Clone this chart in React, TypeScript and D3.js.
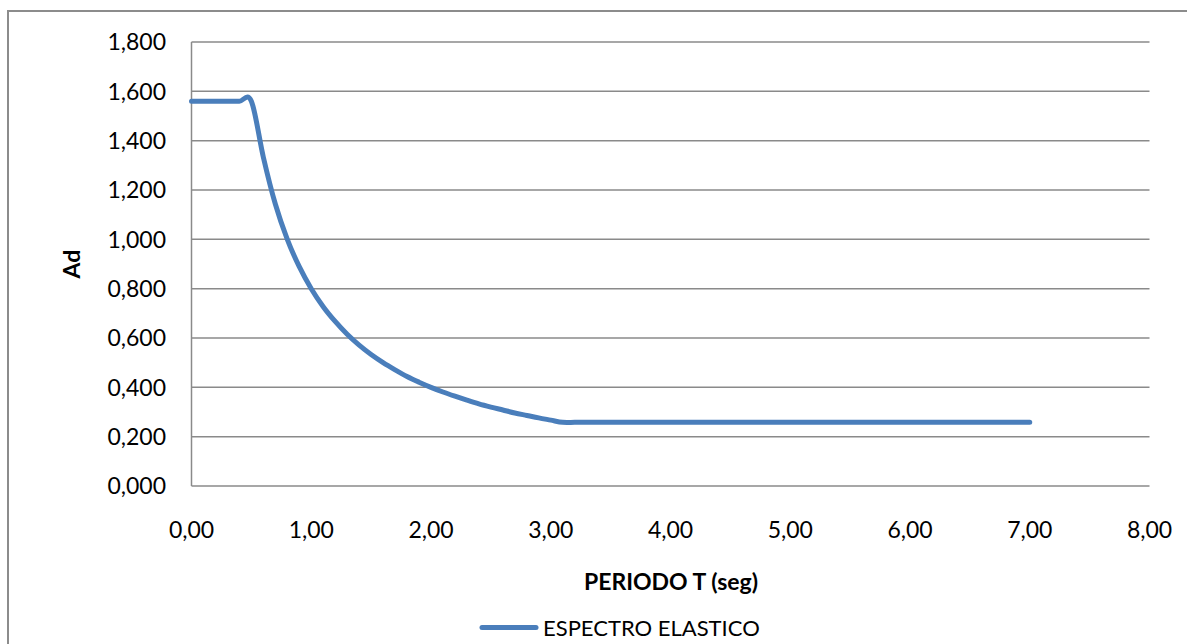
import React from "react";
import * as d3 from "d3";

const periods: number[] = [
  0.0, 0.1, 0.2, 0.3, 0.4, 0.5, 0.6, 0.7, 0.8, 0.9,
  1.0, 1.1, 1.2, 1.3, 1.4, 1.5, 1.6, 1.7, 1.8, 1.9,
  2.0, 2.1, 2.2, 2.3, 2.4, 2.5, 2.6, 2.7, 2.8, 2.9,
  3.0, 3.1, 3.2, 3.3, 3.4, 3.5, 3.6, 3.7, 3.8, 3.9,
  4.0, 4.1, 4.2, 4.3, 4.4, 4.5, 4.6, 4.7, 4.8, 4.9,
  5.0, 5.1, 5.2, 5.3, 5.4, 5.5, 5.6, 5.7, 5.8, 5.9,
  6.0, 6.1, 6.2, 6.3, 6.4, 6.5, 6.6, 6.7, 6.8, 6.9,
  7.0,
];

const adValues: number[] = [
  1.56, 1.56, 1.56, 1.56, 1.56, 1.56, 1.333, 1.143, 1.0, 0.889,
  0.8, 0.727, 0.667, 0.615, 0.571, 0.533, 0.5, 0.471, 0.444, 0.421,
  0.4, 0.381, 0.364, 0.348, 0.333, 0.32, 0.308, 0.296, 0.286, 0.276,
  0.267, 0.258, 0.258, 0.258, 0.258, 0.258, 0.258, 0.258, 0.258, 0.258,
  0.258, 0.258, 0.258, 0.258, 0.258, 0.258, 0.258, 0.258, 0.258, 0.258,
  0.258, 0.258, 0.258, 0.258, 0.258, 0.258, 0.258, 0.258, 0.258, 0.258,
  0.258, 0.258, 0.258, 0.258, 0.258, 0.258, 0.258, 0.258, 0.258, 0.258,
  0.258,
];

const yTicks: number[] = [0, 0.2, 0.4, 0.6, 0.8, 1.0, 1.2, 1.4, 1.6, 1.8];
const xTicks: number[] = [0, 1, 2, 3, 4, 5, 6, 7, 8];

const seriesName = "ESPECTRO ELASTICO";
const xTitle = "PERIODO T (seg)";
const yTitle = "Ad";

const W = 1187;
const H = 644;
const plot = { left: 191.5, right: 1149.5, top: 42, bottom: 486 };

const fmt3 = (v: number) => v.toFixed(3).replace(".", ",");
const fmt2 = (v: number) => v.toFixed(2).replace(".", ",");

export default function App() {
  const x = d3.scaleLinear().domain([0, 8]).range([plot.left, plot.right]);
  const y = d3.scaleLinear().domain([0, 1.8]).range([plot.bottom, plot.top]);
  const pts: [number, number][] = periods.map((t, i) => [t, adValues[i]]);
  const line = d3
    .line<[number, number]>()
    .x((d) => x(d[0]))
    .y((d) => y(d[1]))
    .curve(d3.curveCardinal.tension(0));
  const font = "Lato, 'Open Sans', sans-serif";
  const grid = "#8a8a8a";
  const blue = "#4a7ebb";

  return (
    <svg
      width={W}
      height={H}
      style={{ position: "absolute", left: 0, top: 0, background: "#fff" }}
      fontFamily={font}
    >
      <rect x={0} y={0} width={W} height={H} fill="#fff" />
      <rect x={8} y={11} width={W + 20} height={H + 20} fill="#fff" stroke="#8c8c8c" strokeWidth={2} />
      {yTicks.map((t) => (
        <line key={"g" + t} x1={plot.left} x2={plot.right} y1={y(t)} y2={y(t)} stroke={grid} strokeWidth={1.5} />
      ))}
      <line x1={plot.left} x2={plot.left} y1={plot.top} y2={plot.bottom} stroke={grid} strokeWidth={1.5} />
      {yTicks.map((t) => (
        <text key={"yl" + t} x={166} y={y(t)} dy="0.36em" textAnchor="end" fontSize={23} fill="#000">
          {fmt3(t)}
        </text>
      ))}
      {xTicks.map((t) => (
        <text key={"xl" + t} x={x(t)} y={530} dy="0.36em" textAnchor="middle" fontSize={23} fill="#000">
          {fmt2(t)}
        </text>
      ))}
      <path d={line(pts) || ""} fill="none" stroke={blue} strokeWidth={5} strokeLinecap="round" strokeLinejoin="round" />
      <text x={671} y={582} dy="0.36em" textAnchor="middle" fontSize={23} fontWeight="bold" fill="#000">
        {xTitle}
      </text>
      <text
        transform={`translate(72,${(plot.top + plot.bottom) / 2}) rotate(-90)`}
        dy="0.36em"
        textAnchor="middle"
        fontSize={23}
        fontWeight="bold"
        fill="#000"
      >
        {yTitle}
      </text>
      <line x1={482} x2={536} y1={627.5} y2={627.5} stroke={blue} strokeWidth={5} strokeLinecap="round" />
      <text x={543} y={628} dy="0.36em" textAnchor="start" fontSize={22} fill="#000">
        {seriesName}
      </text>
    </svg>
  );
}
